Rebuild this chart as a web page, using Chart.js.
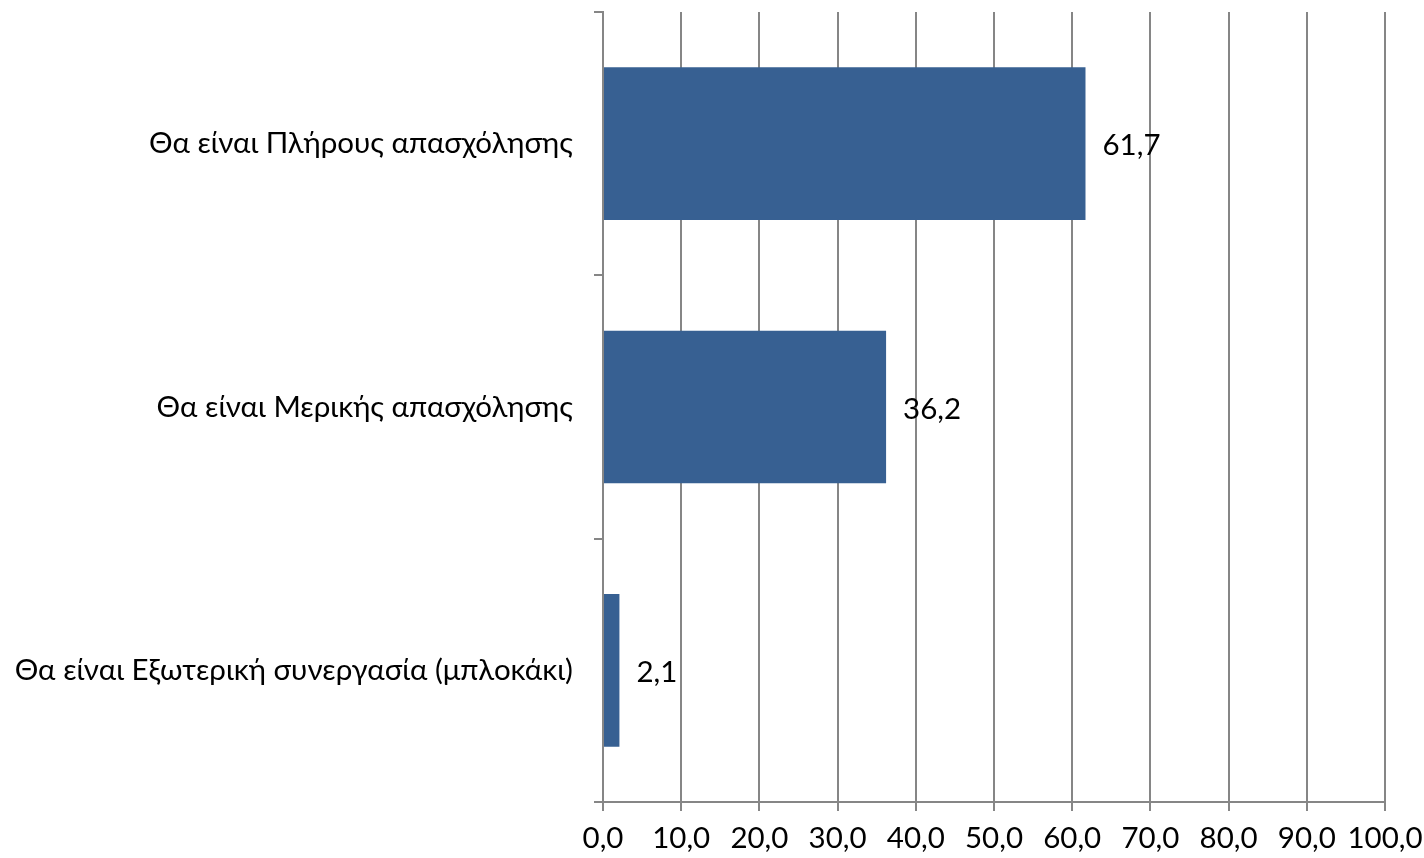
<!DOCTYPE html>
<html><head><meta charset="utf-8">
<script src="https://cdn.jsdelivr.net/npm/chart.js@4.4.0/dist/chart.umd.min.js"></script>
<style>html,body{margin:0;padding:0;background:#fff}#wrap{width:1424px;height:858px}</style>
</head><body><div id="wrap"><canvas id="c"></canvas></div>
<script>
const categories = ["Θα είναι Πλήρους απασχόλησης", "Θα είναι Μερικής απασχόλησης", "Θα είναι Εξωτερική συνεργασία (μπλοκάκι)"];
const values = [61.7, 36.2, 2.1];
const xTicks = [0,10,20,30,40,50,60,70,80,90,100];
const FONT = "Lato";
const FS = 29.5;
const fmt = v => v.toFixed(1).replace('.', ',');

const valueLabels = {
  id: 'valueLabels',
  afterDatasetsDraw(chart) {
    const ctx = chart.ctx;
    const meta = chart.getDatasetMeta(0);
    ctx.save();
    ctx.font = `${FS}px ${FONT}`;
    ctx.fillStyle = '#000';
    ctx.textBaseline = 'middle';
    ctx.textAlign = 'left';
    meta.data.forEach((bar, i) => {
      ctx.fillText(fmt(values[i]), bar.x + 17, bar.y + 2);
    });
    ctx.restore();
  }
};

new Chart(document.getElementById('c'), {
  type: 'bar',
  data: { labels: categories, datasets: [{ data: values, backgroundColor: '#376092', borderWidth: 0, barPercentage: 0.58, categoryPercentage: 1 }] },
  options: {
    indexAxis: 'y', responsive: true, maintainAspectRatio: false, animation: false,
    layout: { padding: { top: 12, right: 39, bottom: 0, left: 0 } },
    plugins: { legend: { display: false }, tooltip: { enabled: false } },
    scales: {
      x: {
        min: 0, max: 100,
        afterBuildTicks: s => { s.ticks = xTicks.map(v => ({ value: v })); },
        afterFit: s => { s.height = 56; s.paddingLeft = 0; s.paddingRight = 0; },
        ticks: { callback: v => fmt(v), font: { family: FONT, size: FS }, color: '#000', padding: 10, maxRotation: 0, autoSkip: false },
        grid: { color: '#868686', lineWidth: 2, tickLength: 9 },
        border: { color: '#868686', width: 2 }
      },
      y: {
        afterFit: s => { s.width = 603; s.paddingTop = 0; s.paddingBottom = 0; },
        ticks: { font: { family: FONT, size: FS }, color: '#000', padding: 21 },
        grid: { offset: true, drawOnChartArea: false, color: '#868686', lineWidth: 2, tickLength: 9 },
        border: { color: '#868686', width: 2 }
      }
    }
  },
  plugins: [valueLabels]
});
</script></body></html>
